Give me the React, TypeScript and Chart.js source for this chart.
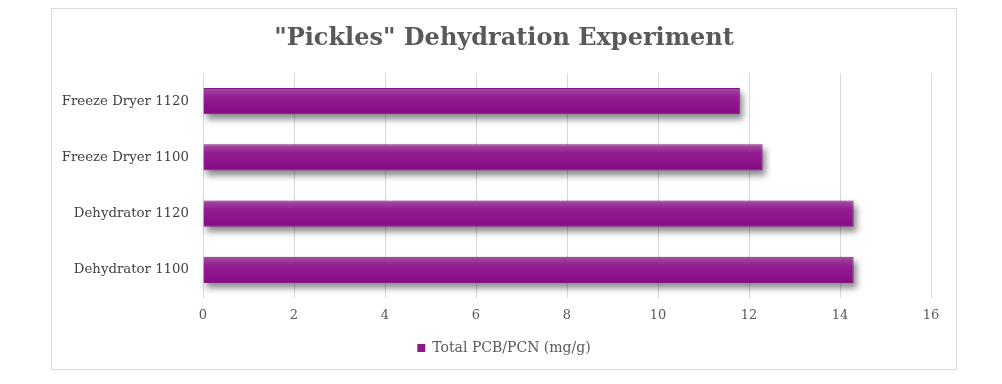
import React, { useEffect, useRef } from "react";
import { Chart, registerables } from "chart.js";

Chart.register(...registerables);

const categories = ["Freeze Dryer 1120", "Freeze Dryer 1100", "Dehydrator 1120", "Dehydrator 1100"];
const seriesName = "Total PCB/PCN (mg/g)";
const values = [11.8, 12.3, 14.3, 14.3];
const xTicks = [0, 2, 4, 6, 8, 10, 12, 14, 16];
const titleText = '"Pickles" Dehydration Experiment';

const FONT = "'DejaVu Serif', serif";

const shadowPlugin = {
  id: "barShadow",
  beforeDatasetsDraw(chart: any) {
    const ctx = chart.ctx;
    const meta = chart.getDatasetMeta(0);
    ctx.save();
    ctx.filter = "blur(3px)";
    ctx.fillStyle = "rgba(0,0,0,0.45)";
    meta.data.forEach((el: any) => {
      const p = el.getProps(["x", "y", "base", "height"], true);
      const left = Math.min(p.base, p.x);
      const w = Math.abs(p.x - p.base);
      ctx.fillRect(left + 3, p.y - p.height / 2 + 5, w, p.height);
    });
    ctx.restore();
  },
};

export default function App() {
  const ref = useRef<HTMLCanvasElement | null>(null);
  useEffect(() => {
    if (!ref.current) return;
    const chart = new Chart(ref.current, {
      type: "bar",
      data: {
        labels: categories,
        datasets: [
          {
            label: seriesName,
            data: values,
            backgroundColor: (c: any) => {
              const ch = c.chart;
              const ys = ch.scales && ch.scales.y;
              if (!ys || c.type !== "data") return "#8e1a8e";
              const y = ys.getPixelForValue(c.dataIndex);
              const g = ch.ctx.createLinearGradient(0, y - 13, 0, y + 13);
              g.addColorStop(0, "#a24ea2");
              g.addColorStop(0.35, "#921c92");
              g.addColorStop(1, "#880a86");
              return g;
            },
            borderColor: "#7f1a7f",
            borderWidth: 1,
            borderSkipped: "left",
            categoryPercentage: 1,
            barPercentage: 0.47,
          },
        ],
      },
      options: {
        indexAxis: "y",
        animation: false,
        responsive: false,
        layout: { padding: { left: 0, right: 0, top: 0, bottom: 4 } },
        scales: {
          x: {
            min: 0,
            max: 16,
            afterBuildTicks: (s: any) => {
              s.ticks = xTicks.map((v) => ({ value: v }));
            },
            afterFit: (s: any) => {
              s.height = 35;
            },
            grid: { color: "#d9d9d9", drawTicks: false, lineWidth: 1 },
            border: { display: false },
            ticks: { color: "#595959", font: { family: FONT, size: 13 }, padding: 10 },
          },
          y: {
            afterFit: (s: any) => {
              s.width = 151;
            },
            grid: { display: false },
            border: { display: false },
            ticks: { color: "#404040", font: { family: FONT, size: 13.3 }, padding: 6 },
          },
          yRight: {
            type: "category",
            labels: categories,
            position: "right",
            afterFit: (s: any) => {
              s.width = 25;
            },
            grid: { display: false },
            border: { display: false },
            ticks: { display: false },
          },
        },
        plugins: {
          title: {
            display: true,
            text: titleText,
            color: "#595959",
            font: { family: FONT, size: 24, weight: "bold" },
            padding: { top: 15, bottom: 20.2 },
          },
          legend: {
            position: "bottom",
            labels: {
              boxWidth: 8,
              boxHeight: 8,
              padding: 8,
              color: "#595959",
              font: { family: FONT, size: 14 },
              generateLabels: () => [
                {
                  text: seriesName,
                  fillStyle: "#8e1a8e",
                  strokeStyle: "#8e1a8e",
                  lineWidth: 0,
                  hidden: false,
                  datasetIndex: 0,
                  fontColor: "#595959",
                },
              ],
            },
          },
          tooltip: { enabled: false },
        },
      },
      plugins: [shadowPlugin],
    });
    return () => chart.destroy();
  }, []);
  return (
    <div style={{ marginLeft: 43, width: 904, height: 360, border: "1px solid #d9d9d9" }}>
      <canvas ref={ref} width={904} height={360} style={{ display: "block" }} />
    </div>
  );
}
